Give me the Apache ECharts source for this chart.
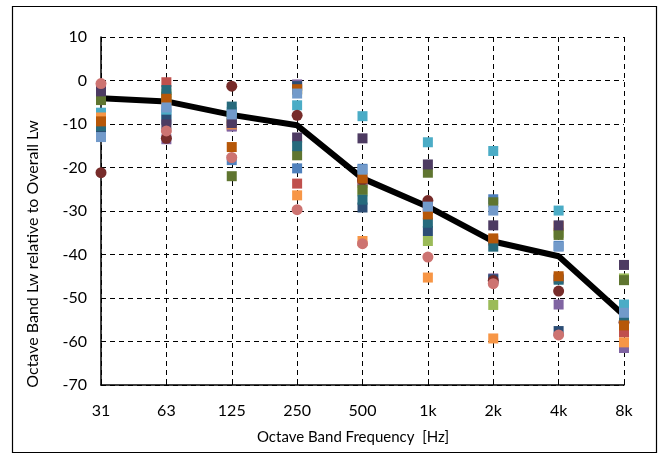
<!DOCTYPE html>
<html><head><meta charset="utf-8">
<script src="https://cdn.jsdelivr.net/npm/echarts@6/dist/echarts.min.js"></script>
<style>html,body{margin:0;padding:0;background:#fff}#c{width:661px;height:456px}</style>
</head><body><div id="c"></div>
<script>
const categories = ['31','63','125','250','500','1k','2k','4k','8k'];
const yTicks = { min: -70, max: 10, interval: 10 };

const sBlue       = [-12, -6.8, -18.3, -20.2, -20.3, -28.5, -27.3, -38, -53];
const sRed        = [-1.5, -0.4, -10.4, -23.7, -23.5, -29.5, -36.8, -45.5, -57.9];
const sLightGreen = [-3.5, -3, -8.5, -2.2, -25.5, -36.9, -51.6, -35, -45.5];
const sPurple     = [-3, -13.5, -10.6, -0.9, -23, -28.8, -45.5, -51.5, -61.5];
const sAqua       = [-7.4, -7.8, -7.2, -5.7, -8.2, -14.2, -16.2, -29.9, -51.5];
const sOrange     = [-8.5, -4.6, -10.1, -26.4, -36.9, -45.3, -59.3, -33.5, -60.2];
const sNavy       = [-11.3, -9, -9.3, -1.3, -29.2, -34.6, -45.7, -57.6, -56];
const sDarkRed    = [-21.2, -13.3, -1.3, -8, -22.9, -27.6, -46, -48.4, -55.6];
const sOlive      = [-4.5, -3.7, -22, -17.2, -25.1, -21.2, -28, -35.5, -45.9];
const sDarkPurple = [-2.5, -10.1, -9.8, -13.1, -13.3, -19.3, -33.3, -33.3, -42.4];
const sTeal       = [-10.5, -2.2, -6, -15.1, -27.4, -32.7, -38.2, -45.8, -55];
const sDarkOrange = [-9.4, -4.2, -15.3, -2, -22.5, -30.8, -36.3, -45, -56.3];
const sLightBlue  = [-13, -6.2, -7.8, -3, -20.5, -29, -29.9, -38.2, -53.4];
const sPink       = [-0.7, -11.6, -17.7, -29.7, -37.5, -40.6, -46.7, -58.5, null];
const sAverage    = [-4.1, -4.8, -7.9, -10.3, -22.5, -29, -37, -40.4, -54];

const pointSeries = [
  [sBlue, '#4F81BD', 'rect'],
  [sRed, '#C0504D', 'rect'],
  [sLightGreen, '#9BBB59', 'rect'],
  [sPurple, '#8064A2', 'rect'],
  [sAqua, '#4BACC6', 'rect'],
  [sOrange, '#F79646', 'rect'],
  [sNavy, '#2C4D75', 'rect'],
  [sDarkRed, '#772C2A', 'circle'],
  [sOlive, '#5F7530', 'rect'],
  [sDarkPurple, '#4D3B62', 'rect'],
  [sTeal, '#276A7C', 'rect'],
  [sDarkOrange, '#B65708', 'rect'],
  [sLightBlue, '#729ACA', 'rect'],
  [sPink, '#CD7371', 'circle']
];

const font = 'Lato, "Open Sans", sans-serif';
const series = [{
  type: 'line', data: sAverage, symbol: 'none', z: 1,
  lineStyle: { color: '#000', width: 6 }, silent: true
}];
pointSeries.forEach(([d, c, sym], i) => {
  series.push({
    type: 'line', data: d, symbol: sym, symbolSize: sym === 'circle' ? 11 : 10,
    showSymbol: true, lineStyle: { width: 0, opacity: 0 }, itemStyle: { color: c, opacity: 1 },
    z: 2 + i, silent: true, connectNulls: false
  });
});

const chart = echarts.init(document.getElementById('c'), null, { renderer: 'canvas' });
chart.setOption({
  animation: false,
  grid: { left: 101, right: 37, top: 37, bottom: 71, containLabel: false },
  xAxis: {
    type: 'category', data: categories, boundaryGap: false,
    axisLine: { show: true, onZero: false, lineStyle: { color: '#000', width: 1.5 } },
    axisTick: { show: true, inside: true, length: 4, lineStyle: { color: '#000' } },
    axisLabel: { color: '#000', fontSize: 16, fontFamily: font, margin: 18 },
    splitLine: { show: true, lineStyle: { color: '#000', type: [5, 4], width: 1 } }
  },
  yAxis: {
    type: 'value', min: yTicks.min, max: yTicks.max, interval: yTicks.interval,
    axisLine: { show: true, lineStyle: { color: '#000', width: 1.5 } },
    axisTick: { show: false },
    axisLabel: { color: '#000', fontSize: 16, fontFamily: font, margin: 14 },
    splitLine: { show: true, lineStyle: { color: '#000', type: [5, 4], width: 1 } }
  },
  graphic: [
    { type: 'rect', shape: { x: 12.5, y: 6.5, width: 644, height: 446 }, style: { fill: 'none', stroke: '#000', lineWidth: 1.2 }, silent: true, z: -1 },
    { type: 'text', x: 353, y: 437, style: { text: 'Octave Band Frequency  [Hz]', font: '15px ' + font, fill: '#000', textAlign: 'center', textVerticalAlign: 'middle' } },
    { type: 'text', x: 33, y: 254, rotation: Math.PI / 2, style: { text: 'Octave Band Lw relative to Overall Lw', font: '16px ' + font, fill: '#000', textAlign: 'center', textVerticalAlign: 'middle' } }
  ],
  series: series
});
</script></body></html>
